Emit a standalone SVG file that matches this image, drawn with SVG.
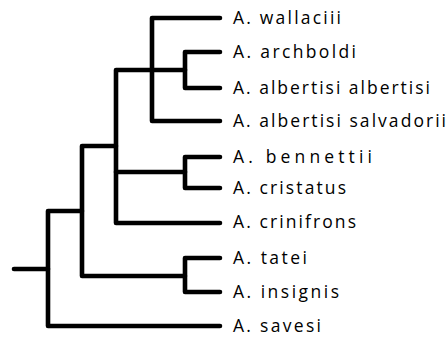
<svg xmlns="http://www.w3.org/2000/svg" width="447" height="340" viewBox="0 0 447 340">
  <style>
    .br { fill: none; stroke: #000; stroke-width: 4.6; stroke-linecap: round; stroke-linejoin: round; }
    .lbl { font-family: "Open Sans", "Noto Sans", "DejaVu Sans", sans-serif; font-size: 17.5px; fill: #000; }
  </style>
  <rect width="447" height="340" fill="#fff"/>

  <!-- tree branches -->
  <g id="connectors">
    <!-- root stem -->
    <path class="br" d="M14 269 H48"/>
    <!-- root node: (rest) vs savesi -->
    <path class="br" d="M82 211 H48 V326 H220"/>
    <!-- node: big clade vs tatei/insignis -->
    <path class="br" d="M116 146 H82 V276 H185"/>
    <!-- tatei / insignis -->
    <path class="br" d="M220 258 H185 V292 H220"/>
    <!-- node: wallaciii group vs bennettii group vs crinifrons -->
    <path class="br" d="M152 70 H116 V223 H220"/>
    <path class="br" d="M116 172 H185"/>
    <!-- bennettii / cristatus -->
    <path class="br" d="M220 157 H185 V188 H220"/>
    <!-- wallaciii group -->
    <path class="br" d="M220 18 H152 V121 H220"/>
    <path class="br" d="M152 70 H185"/>
    <!-- archboldi / albertisi albertisi -->
    <path class="br" d="M220 52 H185 V88 H220"/>
  </g>

  <g id="leaf-wallaciii"><text class="lbl" x="233" y="24" textLength="108" lengthAdjust="spacing">A. wallaciii</text></g>
  <g id="leaf-archboldi"><text class="lbl" x="233" y="58" textLength="123" lengthAdjust="spacing">A. archboldi</text></g>
  <g id="leaf-albertisi-albertisi"><text class="lbl" x="233" y="94" textLength="197" lengthAdjust="spacing">A. albertisi albertisi</text></g>
  <g id="leaf-albertisi-salvadorii"><text class="lbl" x="233" y="127" textLength="213" lengthAdjust="spacing">A. albertisi salvadorii</text></g>
  <g id="leaf-bennettii"><text class="lbl" x="233" y="163" textLength="139" lengthAdjust="spacing">A. bennettii</text></g>
  <g id="leaf-cristatus"><text class="lbl" x="233" y="194" textLength="113" lengthAdjust="spacing">A. cristatus</text></g>
  <g id="leaf-crinifrons"><text class="lbl" x="233" y="228" textLength="123" lengthAdjust="spacing">A. crinifrons</text></g>
  <g id="leaf-tatei"><text class="lbl" x="233" y="264" textLength="74" lengthAdjust="spacing">A. tatei</text></g>
  <g id="leaf-insignis"><text class="lbl" x="233" y="298" textLength="106" lengthAdjust="spacing">A. insignis</text></g>
  <g id="leaf-savesi"><text class="lbl" x="233" y="332" textLength="88" lengthAdjust="spacing">A. savesi</text></g>
</svg>
